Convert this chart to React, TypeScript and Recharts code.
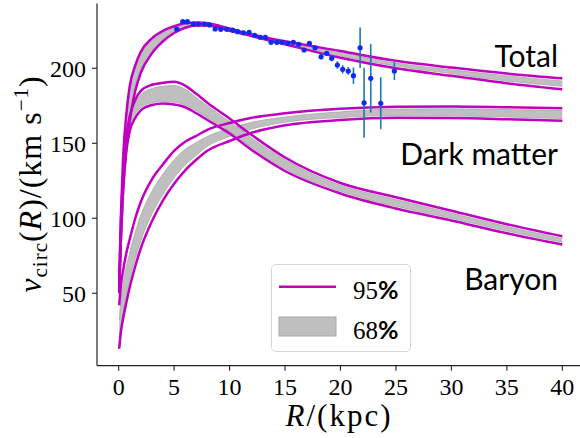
import { ComposedChart, Line, Area, Scatter, ErrorBar, XAxis, YAxis, Legend } from 'recharts';

// radius grid (kpc) for the model curves
const radius = [0.05, 0.2, 0.4, 0.7, 1, 1.5, 2, 3, 4, 5, 6, 7, 8, 10, 12, 15, 20, 25, 30, 35, 40];

// Total: 95% limits and 68% band
const totalHi = [57, 100, 140, 170, 188, 202, 211, 220, 225, 228, 230, 230.5, 230, 226.5, 222.5, 218, 211.5, 205, 200.5, 196.5, 193.3];
const totalLo = [52, 85, 118, 148, 165, 185, 197, 210, 218, 223.5, 227, 228.5, 228.5, 225, 221.5, 216, 207, 200, 195, 190, 186];
const totalBandLo = [53, 88, 122, 152, 169, 188, 199.5, 212, 219.5, 224.5, 227.8, 229, 228.8, 225.5, 221.8, 216.5, 208.2, 201.5, 196.5, 191.5, 188];
const totalBandHi = [56, 97, 136, 166, 185, 199.5, 209, 218.5, 223.5, 227, 229.2, 230, 229.6, 226.2, 222.3, 217.5, 210.5, 203.5, 199, 195, 191.5];

// Baryon
const baryonHi = [56, 96, 130, 155, 168, 179, 185, 189, 190.3, 191, 188.5, 183, 177, 166.5, 155.5, 140.5, 123.5, 114, 105, 96, 88];
const baryonLo = [50, 85, 118, 145, 158, 167, 172, 175.5, 176.5, 175.8, 174, 170, 165.5, 156.5, 145.5, 131.5, 116.5, 106.5, 98.5, 90, 82.5];
const baryonBandLo = [51, 88, 121, 148, 160.5, 169.5, 174, 177, 178, 177.3, 175.5, 171.5, 167, 158, 147, 133, 118, 108, 100, 91.5, 84];
const baryonBandHi = [55, 94, 128, 153, 166, 177, 182.5, 186.5, 188, 188.5, 186, 180.5, 175, 164.5, 153.5, 139, 122, 112.5, 103.5, 94.5, 86.5];

// Dark matter
const darkHi = [42, 55, 65, 77, 86, 100, 111, 126, 136, 145, 151, 155, 159, 163.5, 167, 170, 173, 174.3, 174.5, 174, 173.3];
const darkLo = [13, 24, 33, 44, 54, 68, 80, 98, 112, 123, 132, 139, 145, 151.5, 157, 162, 165.5, 167, 166.8, 166, 165];
const darkBandLo = [20, 28, 37, 49, 59, 73, 85, 103, 116, 127, 135.5, 142, 148, 154.5, 159.5, 164, 167.2, 168.5, 168.3, 167.5, 166.5];
const darkBandHi = [32, 45, 56, 68, 77, 91, 102, 118, 129.5, 139, 146, 150.5, 154.5, 160, 164, 167.5, 171, 172.8, 173, 172.5, 171.8];

// observed rotation curve
const obsR = [5.24, 5.78, 6.2, 6.74, 7.19, 7.73, 8.19, 8.7, 9.21, 9.75, 10.29, 10.74, 11.25, 11.76, 12.27, 12.75, 13.23, 13.74, 14.26, 14.74, 15.25, 15.75, 16.24, 16.72, 17.2, 17.71, 18.25, 18.76, 19.21, 19.72, 20.2, 20.7, 21.17, 21.77, 22.13, 22.73, 23.63, 24.86];
const obsV = [226.2, 231.1, 231.1, 229.5, 229.5, 229.5, 228.9, 226.2, 226, 226, 225.5, 224.4, 223.7, 224, 222, 220.7, 220.7, 217.3, 217.3, 217.3, 216.7, 217.3, 216, 212.2, 216.7, 213.7, 207.7, 210, 206.7, 202.2, 199.3, 198.2, 195.1, 213.7, 177, 193.3, 176.7, 198.2];
const obsErr = [1.2, 1.2, 1.2, 1.2, 1.2, 1.2, 1.2, 1.2, 1.2, 1.2, 1.2, 1.2, 1.2, 1.2, 1.2, 1.2, 1.2, 1.2, 1.2, 1.2, 1.2, 1.2, 1.2, 1.2, 1.2, 1.5, 1.8, 1.5, 2, 2.5, 2.8, 2.5, 5.5, 13.5, 23.3, 22.8, 17.3, 6];

const xTicks = [0, 5, 10, 15, 20, 25, 30, 35, 40];
const yTicks = [50, 100, 150, 200];

const curves = radius.map((r, i) => ({
  R: r,
  tHi: totalHi[i],
  tLo: totalLo[i],
  tBand: [totalBandLo[i], totalBandHi[i]],
  bHi: baryonHi[i],
  bLo: baryonLo[i],
  bBand: [baryonBandLo[i], baryonBandHi[i]],
  dHi: darkHi[i],
  dLo: darkLo[i],
  dBand: [darkBandLo[i], darkBandHi[i]],
}));

const points = obsR.map((r, i) => ({ R: r, v: obsV[i], err: obsErr[i] }));

const MAGENTA = '#bf00bf';
const GRAY = '#bfbfbf';
const serif = '"Liberation Serif", "DejaVu Serif", serif';
const sans = 'Lato, "Open Sans", sans-serif';

const LegendBox = () => (
  <div style={{ position: 'relative', width: 140, height: 88, boxSizing: 'border-box', border: '1px solid #d6d6d6', borderRadius: 5, background: 'rgba(255,255,255,0.85)', fontSize: 25, color: '#000' }}>
    <svg width={140} height={88} style={{ position: 'absolute', left: -1, top: -1 }}>
      <line x1={8} x2={65} y1={22.7} y2={22.7} stroke={MAGENTA} strokeWidth={2.5} />
      <rect x={8} y={53} width={57} height={19} fill={GRAY} stroke="#a9a9a9" strokeWidth={1} />
    </svg>
    <div style={{ position: 'absolute', left: 81, top: 11, lineHeight: '26px', whiteSpace: 'nowrap' }}>
      <span style={{ fontFamily: serif }}>95</span><span style={{ fontFamily: sans, fontWeight: 700 }}>%</span>
    </div>
    <div style={{ position: 'absolute', left: 81, top: 51, lineHeight: '26px', whiteSpace: 'nowrap' }}>
      <span style={{ fontFamily: serif }}>68</span><span style={{ fontFamily: sans, fontWeight: 700 }}>%</span>
    </div>
  </div>
);

const bandStyle = { fill: GRAY, fillOpacity: 1, stroke: '#a9a9a9', strokeWidth: 0.8 };

export default function App() {
  const labelStyle = { position: 'absolute' as const, right: 22, fontFamily: sans, fontSize: 30, lineHeight: '30px', color: '#000', whiteSpace: 'nowrap' as const };
  return (
    <div style={{ position: 'absolute', left: 0, top: 0, width: 580, height: 438, overflow: 'hidden', background: '#fff' }}>
      <ComposedChart width={600} height={438} data={curves} margin={{ top: 3.5, right: 15.5, bottom: 0, left: 0 }}>
        <XAxis
          dataKey="R"
          type="number"
          domain={[-1.95, 42]}
          allowDataOverflow
          ticks={xTicks}
          height={72.3}
          tickSize={5}
          tickMargin={7}
          axisLine={{ stroke: '#222', strokeWidth: 1.2 }}
          tickLine={{ stroke: '#222', strokeWidth: 1.1 }}
          tick={{ fontSize: 24, fill: '#000', fontFamily: serif }}
        />
        <XAxis
          xAxisId="top"
          orientation="top"
          type="number"
          domain={[-1.95, 42]}
          height={0}
          tick={false}
          tickLine={false}
          axisLine={{ stroke: '#222', strokeWidth: 1.2 }}
        />
        <YAxis
          type="number"
          domain={[1.7, 243.2]}
          allowDataOverflow
          ticks={yTicks}
          width={97}
          tickSize={5}
          tickMargin={6}
          axisLine={{ stroke: '#222', strokeWidth: 1.2 }}
          tickLine={{ stroke: '#222', strokeWidth: 1.1 }}
          tick={{ fontSize: 24, fill: '#000', fontFamily: serif }}
        />
        <Area type="monotone" dataKey="dBand" {...bandStyle} isAnimationActive={false} />
        <Area type="monotone" dataKey="bBand" {...bandStyle} isAnimationActive={false} />
        <Area type="monotone" dataKey="tBand" {...bandStyle} isAnimationActive={false} />
        <Line type="monotone" dataKey="dHi" stroke={MAGENTA} strokeWidth={2.5} dot={false} isAnimationActive={false} />
        <Line type="monotone" dataKey="dLo" stroke={MAGENTA} strokeWidth={2.5} dot={false} isAnimationActive={false} />
        <Line type="monotone" dataKey="bHi" stroke={MAGENTA} strokeWidth={2.5} dot={false} isAnimationActive={false} />
        <Line type="monotone" dataKey="bLo" stroke={MAGENTA} strokeWidth={2.5} dot={false} isAnimationActive={false} />
        <Line type="monotone" dataKey="tHi" stroke={MAGENTA} strokeWidth={2.5} dot={false} isAnimationActive={false} />
        <Line type="monotone" dataKey="tLo" stroke={MAGENTA} strokeWidth={2.5} dot={false} isAnimationActive={false} />
        <Scatter
          data={points}
          dataKey="v"
          isAnimationActive={false}
          shape={(p: any) => <circle cx={p.cx} cy={p.cy} r={2.6} fill="#0a2cf0" />}
        >
          <ErrorBar dataKey="err" direction="y" width={0} stroke="#1f77b4" strokeWidth={1.6} />
        </Scatter>
        <Legend
          layout="vertical"
          align="center"
          verticalAlign="middle"
          content={() => <LegendBox />}
          wrapperStyle={{ left: 271, top: 264, width: 140, height: 88 }}
        />
      </ComposedChart>

      <div style={{ ...labelStyle, top: 40 }}>Total</div>
      <div style={{ ...labelStyle, top: 137.7 }}>Dark matter</div>
      <div style={{ ...labelStyle, top: 262.7 }}>Baryon</div>

      <div style={{ position: 'absolute', left: 189, top: 403, width: 300, height: 26, textAlign: 'center', fontFamily: serif, fontSize: 31, lineHeight: '26px', letterSpacing: 2, color: '#000', whiteSpace: 'nowrap' }}>
        <i>R</i>/(kpc)
      </div>
      <div style={{ position: 'absolute', left: -129, top: 166, width: 300, height: 36, lineHeight: '36px', textAlign: 'center', transform: 'rotate(-90deg)', fontFamily: serif, fontSize: 32, letterSpacing: 1, color: '#000', whiteSpace: 'nowrap' }}>
        <i>v</i><sub style={{ fontSize: 21, verticalAlign: '-6px' }}>circ</sub>(<i>R</i>)/(km s<sup style={{ fontSize: 21, verticalAlign: '13px' }}>−1</sup>)
      </div>
    </div>
  );
}
